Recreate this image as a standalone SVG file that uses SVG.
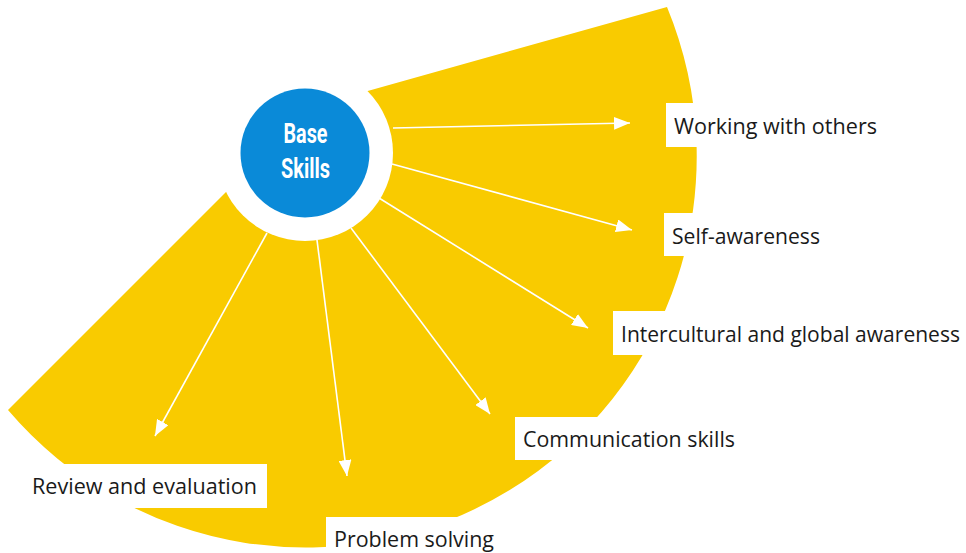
<svg xmlns="http://www.w3.org/2000/svg" width="966" height="553" viewBox="0 0 966 553">
  <defs>
    <style>
      .fan { fill: #F9CB00; }
      .box { fill: #FFFFFF; }
      .lbl { font-family: "Open Sans", "Liberation Sans", sans-serif; font-size: 22px; fill: #1A1A1A; }
      .lbl.sm { font-size: 21px; }
      .base { font-family: "Roboto", "Liberation Sans", sans-serif; font-weight: bold; font-size: 27px; fill: #FFFFFF; text-anchor: middle; }
      .conn { stroke: #FFFFFF; stroke-width: 1.6; fill: none; marker-end: url(#arrow); }
    </style>
    <marker id="arrow" markerUnits="userSpaceOnUse" markerWidth="17" markerHeight="13" refX="16" refY="6.5" orient="auto">
      <path d="M0,0 L16,6.5 L0,13 Z" fill="#FFFFFF"/>
    </marker>
  </defs>

  <rect width="966" height="553" fill="#FFFFFF"/>

  <g id="fan">
    <path class="fan" d="M667,7 A391,391 0 0 1 8,410 L235,183 L305,155 L357,94 Z"/>
  </g>

  <g id="base-skills">
    <circle cx="305" cy="153" r="88" fill="#FFFFFF"/>
    <circle cx="305" cy="153" r="64.5" fill="#0A8AD8"/>
    <text class="base" x="305.5" y="143" textLength="44" lengthAdjust="spacingAndGlyphs">Base</text>
    <text class="base" x="305.5" y="178" textLength="49" lengthAdjust="spacingAndGlyphs">Skills</text>
  </g>

  <g id="working-with-others">
    <rect class="box" x="666" y="103" width="222" height="44"/>
    <text class="lbl" x="674" y="134" textLength="203" lengthAdjust="spacingAndGlyphs">Working with others</text>
  </g>

  <g id="self-awareness">
    <rect class="box" x="664" y="213" width="168" height="43"/>
    <text class="lbl" x="672" y="244" textLength="148" lengthAdjust="spacingAndGlyphs">Self-awareness</text>
  </g>

  <g id="intercultural">
    <rect class="box" x="613" y="311" width="353" height="44"/>
    <text class="lbl sm" x="621" y="342" textLength="339" lengthAdjust="spacingAndGlyphs">Intercultural and global awareness</text>
  </g>

  <g id="communication">
    <rect class="box" x="515" y="417" width="232" height="43"/>
    <text class="lbl" x="523" y="447" textLength="212" lengthAdjust="spacingAndGlyphs">Communication skills</text>
  </g>

  <g id="review">
    <rect class="box" x="24" y="464" width="243" height="44"/>
    <text class="lbl" x="32" y="494" textLength="225" lengthAdjust="spacingAndGlyphs">Review and evaluation</text>
  </g>

  <g id="problem-solving">
    <rect class="box" x="326" y="517" width="180" height="36"/>
    <text class="lbl" x="334" y="547" textLength="160" lengthAdjust="spacingAndGlyphs">Problem solving</text>
  </g>

  <g id="connectors">
    <line class="conn" x1="393" y1="128" x2="630" y2="123"/>
    <line class="conn" x1="392" y1="164" x2="632" y2="230"/>
    <line class="conn" x1="379" y1="198" x2="588" y2="328"/>
    <line class="conn" x1="351" y1="228" x2="490" y2="414"/>
    <line class="conn" x1="317" y1="240" x2="347" y2="476"/>
    <line class="conn" x1="267" y1="233" x2="155" y2="436"/>
  </g>
</svg>
